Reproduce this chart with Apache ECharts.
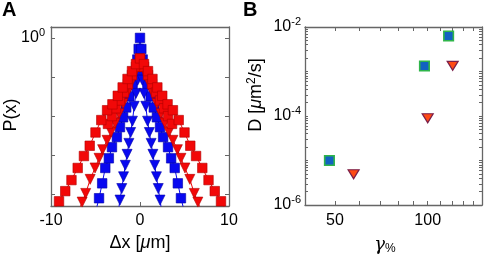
<!DOCTYPE html>
<html>
<head>
<meta charset="utf-8">
<script src="https://cdn.jsdelivr.net/npm/echarts@6/dist/echarts.min.js"></script>
<style>
  html, body { margin: 0; padding: 0; background: #fff; }
  #main { width: 484px; height: 258px; }
</style>
</head>
<body>
<div id="main"></div>
<script>
// panel A: P(dx), four families of curves
const btX = [-2.45, -2.25, -2.05, -1.85, -1.65, -1.45, -1.25, -1.05, -0.85, -0.65, -0.45, -0.25, 0,
  0.25, 0.45, 0.65, 0.85, 1.05, 1.25, 1.45, 1.65, 1.85, 2.05, 2.25, 2.45];
const btP = [3.5e-5, 7.1e-5, 1.4e-4, 2.8e-4, 5.5e-4, 1.05e-3, 2.0e-3, 3.8e-3, 7.4e-3, 1.78e-2, 3.8e-2, 8.3e-2, 0.22,
  8.3e-2, 3.8e-2, 1.78e-2, 7.4e-3, 3.8e-3, 2.0e-3, 1.05e-3, 5.5e-4, 2.8e-4, 1.4e-4, 7.1e-5, 3.5e-5];

const bsX = [-5.0, -4.6, -4.25, -3.9, -3.5, -3.15, -2.6, -2.25, -1.9, -1.55, -1.2, -0.85, -0.55, -0.3, -0.15, 0,
  0.15, 0.3, 0.55, 0.85, 1.2, 1.55, 1.9, 2.25, 2.6, 3.15, 3.5, 3.9, 4.25, 4.6, 5.0];
const bsP = [3.5e-5, 7.9e-5, 1.9e-4, 4.7e-4, 8.3e-4, 1.6e-3, 2.9e-3, 5.2e-3, 9.3e-3, 1.66e-2, 3.2e-2, 6.3e-2, 0.13, 0.28, 0.52, 1.0,
  0.52, 0.28, 0.13, 6.3e-2, 3.2e-2, 1.66e-2, 9.3e-3, 5.2e-3, 2.9e-3, 1.6e-3, 8.3e-4, 4.7e-4, 1.9e-4, 7.9e-5, 3.5e-5];

const rtX = [-7.0, -6.5, -6.1, -5.6, -5.05, -4.6, -4.2, -3.7, -3.25, -2.8, -2.35, -1.9, -1.45, -1.0, -0.55, 0,
  0.55, 1.0, 1.45, 1.9, 2.35, 2.8, 3.25, 3.7, 4.2, 4.6, 5.05, 5.6, 6.1, 6.5, 7.0];
const rtP = [3.2e-5, 6.3e-5, 1.05e-4, 2.4e-4, 4.7e-4, 8.3e-4, 1.38e-3, 2.4e-3, 3.9e-3, 6.6e-3, 1.15e-2, 2.1e-2, 3.8e-2, 7.1e-2, 0.13, 0.26,
  0.13, 7.1e-2, 3.8e-2, 2.1e-2, 1.15e-2, 6.6e-3, 3.9e-3, 2.4e-3, 1.38e-3, 8.3e-4, 4.7e-4, 2.4e-4, 1.05e-4, 6.3e-5, 3.2e-5];

const rs2X = [-3.6, -3.15, -2.7, -2.25, -1.8, -1.35, -0.9, -0.45, 0, 0.45, 0.9, 1.35, 1.8, 2.25, 2.7, 3.15, 3.6];
const rs2P = [6.3e-3, 1.0e-2, 1.58e-2, 2.5e-2, 4.0e-2, 6.6e-2, 0.112, 0.182, 0.28, 0.182, 0.112, 6.6e-2, 4.0e-2, 2.5e-2, 1.58e-2, 1.0e-2, 6.3e-3];

const rsX = [-9.75, -9.1, -8.4, -7.7, -7.0, -6.3, -5.65, -5.0, -4.35, -3.7, -3.1, -2.5, -1.95, -1.4, -0.9, -0.45, 0,
  0.45, 0.9, 1.4, 1.95, 2.5, 3.1, 3.7, 4.35, 5.0, 5.65, 6.3, 7.0, 7.7, 8.4, 9.1, 9.75];
const rsP = [3.5e-5, 6.6e-5, 1.2e-4, 2.3e-4, 4.7e-4, 9.5e-4, 1.74e-3, 3.8e-3, 7.9e-3, 1.41e-2, 2.0e-2, 3.3e-2, 5.4e-2, 8.9e-2, 0.141, 0.214, 0.30,
  0.214, 0.141, 8.9e-2, 5.4e-2, 3.3e-2, 2.0e-2, 1.41e-2, 7.9e-3, 3.8e-3, 1.74e-3, 9.5e-4, 4.7e-4, 2.3e-4, 1.2e-4, 6.6e-5, 3.5e-5];

// panel B: D vs gamma
const sqGamma = [48, 97.6, 116.9];
const sqD = [1.0e-5, 1.33e-3, 6.3e-3];
const triGamma = [57.5, 100, 120.5];
const triD = [4.9e-6, 8.9e-5, 1.34e-3];

// tick values
const aXTicks = [-10, 0, 10];
const aYTicks = [1e-4, 1e-3, 1e-2, 1e-1, 1];
const aYLabels = [1];
const bXTicks = [40, 50, 60, 70, 80, 90, 100, 110, 120, 130, 140, 150];
const bXLabels = [50, 100];
const bYTicks = [];
[1e-6, 1e-5, 1e-4, 1e-3].forEach((d) => {
  [1, 2, 3, 4, 5, 6, 7, 8, 9].forEach((m) => bYTicks.push(m * d));
});
bYTicks.push(1e-2);
const bYLabels = [1e-6, 1e-4, 1e-2];

const FONT = 'Liberation Sans, Arial, sans-serif';
const frame = '#666';

const zip = (xs, ys) => xs.map((x, i) => [x, ys[i]]);

const sup = {
  a: { fontSize: 16, fontFamily: FONT, color: '#000' },
  b: { fontSize: 11, fontFamily: FONT, color: '#000', padding: [0, 0, 10, 0] },
};

function pow10(v) {
  const e = Math.round(Math.log10(v));
  return '{a|10}{b|' + e + '}';
}

function frameAxis(extra) {
  return Object.assign({
    axisLine: { show: true, onZero: false, lineStyle: { color: frame, width: 1.3 } },
    axisTick: { show: true, inside: true, length: 4, lineStyle: { color: frame } },
    axisLabel: { show: false },
    splitLine: { show: false },
  }, extra);
}

function curve(name, xs, ps, color, edge, symbol) {
  return {
    name,
    type: 'line',
    xAxisIndex: 0,
    yAxisIndex: 0,
    data: zip(xs, ps),
    symbol: symbol,
    symbolSize: symbol === 'triangle' ? [10, 10] : 9.5,
    symbolRotate: symbol === 'triangle' ? 180 : 0,
    showSymbol: true,
    clip: true,
    lineStyle: { color: color, width: 1 },
    itemStyle: { color: color, borderColor: edge, borderWidth: 0.6 },
    animation: false,
  };
}

const option = {
  animation: false,
  grid: [
    { left: 51, top: 27, width: 178, height: 179 },
    { left: 305, top: 27, width: 177, height: 178 },
  ],
  xAxis: [
    frameAxis({
      gridIndex: 0, type: 'value', position: 'bottom', min: -10, max: 10, interval: 10,
      axisTick: { show: true, inside: true, length: 4, lineStyle: { color: frame }, customValues: aXTicks },
      axisLabel: {
        show: true, fontSize: 16, fontFamily: FONT, color: '#000', margin: 7,
        formatter: (v) => (v < 0 ? '-' + (-v) : '' + v),
      },
    }),
    frameAxis({ gridIndex: 0, type: 'value', position: 'top', min: -10, max: 10, interval: 10 }),
    frameAxis({
      gridIndex: 1, type: 'log', position: 'bottom', min: 40, max: 150,
      axisTick: { show: true, inside: true, length: 4, lineStyle: { color: frame }, customValues: bXTicks },
      axisLabel: { show: true, fontSize: 16, fontFamily: FONT, color: '#000', margin: 8, customValues: bXLabels },
    }),
    frameAxis({
      gridIndex: 1, type: 'log', position: 'top', min: 40, max: 150,
      axisTick: { show: true, inside: true, length: 4, lineStyle: { color: frame }, customValues: bXTicks },
    }),
  ],
  yAxis: [
    frameAxis({
      gridIndex: 0, type: 'log', position: 'left', min: 5e-5, max: 1.9,
      axisTick: { show: true, inside: true, length: 4, lineStyle: { color: frame }, customValues: aYTicks },
      axisLabel: { show: true, margin: 6, customValues: aYLabels, formatter: pow10, rich: sup },
    }),
    frameAxis({
      gridIndex: 0, type: 'log', position: 'right', min: 5e-5, max: 1.9,
      axisTick: { show: true, inside: true, length: 4, lineStyle: { color: frame }, customValues: aYTicks },
    }),
    frameAxis({
      gridIndex: 1, type: 'log', position: 'left', min: 1e-6, max: 1e-2,
      axisTick: { show: true, inside: true, length: 3, lineStyle: { color: frame }, customValues: bYTicks },
      axisLabel: { show: true, margin: 4, customValues: bYLabels, formatter: pow10, rich: sup },
    }),
    frameAxis({
      gridIndex: 1, type: 'log', position: 'right', min: 1e-6, max: 1e-2,
      axisTick: { show: true, inside: true, length: 3, lineStyle: { color: frame }, customValues: bYTicks },
    }),
  ],
  series: [
    curve('bs', bsX, bsP, '#0808f0', '#0000a8', 'rect'),
    curve('bt', btX, btP, '#0808f0', '#0000a8', 'triangle'),
    curve('rt', rtX, rtP, '#f20808', '#b00000', 'triangle'),
    curve('rs2', rs2X, rs2P, '#f20808', '#b00000', 'rect'),
    curve('rs', rsX, rsP, '#f20808', '#b00000', 'rect'),
    {
      name: 'sq',
      type: 'scatter',
      xAxisIndex: 2,
      yAxisIndex: 2,
      data: zip(sqGamma, sqD),
      symbol: 'rect',
      symbolSize: 9.5,
      itemStyle: { color: '#1262c2', borderColor: '#2fb54a', borderWidth: 1.6, opacity: 1 },
    },
    {
      name: 'tri',
      type: 'scatter',
      xAxisIndex: 2,
      yAxisIndex: 2,
      data: zip(triGamma, triD),
      symbol: 'triangle',
      symbolRotate: 180,
      symbolSize: [11, 9],
      itemStyle: { color: '#ff4a14', borderColor: '#7a1f4a', borderWidth: 1.2, opacity: 1 },
    },
  ],
  graphic: [
    { type: 'text', x: 2, y: 0, style: { text: 'A', font: 'bold 20px ' + FONT, fill: '#000' } },
    { type: 'text', x: 243, y: 0, style: { text: 'B', font: 'bold 20px ' + FONT, fill: '#000' } },
    {
      type: 'text', x: 11, y: 115, rotation: Math.PI / 2,
      style: { text: 'P(x)', font: '18px ' + FONT, fill: '#000', align: 'center', verticalAlign: 'middle' },
    },
    {
      type: 'text', x: 140, y: 243,
      style: {
        text: '{n|Δx [}{i|μ}{n|m]}', align: 'center', verticalAlign: 'middle',
        rich: {
          n: { fontSize: 18, fontFamily: FONT, color: '#000' },
          i: { fontSize: 18, fontFamily: FONT, fontStyle: 'italic', color: '#000' },
        },
      },
    },
    {
      type: 'text', x: 256, y: 95, rotation: Math.PI / 2,
      style: {
        text: '{n|D [}{i|μ}{n|m}{s|2}{n|/s]}', align: 'center', verticalAlign: 'middle',
        rich: {
          n: { fontSize: 18, fontFamily: FONT, color: '#000' },
          i: { fontSize: 18, fontFamily: FONT, fontStyle: 'italic', color: '#000' },
          s: { fontSize: 12, fontFamily: FONT, color: '#000', padding: [0, 0, 9, 0] },
        },
      },
    },
    {
      type: 'text', x: 385, y: 245,
      style: {
        text: '{g|γ}{p|%}', align: 'center', verticalAlign: 'middle',
        rich: {
          g: { fontSize: 18, fontFamily: 'DejaVu Serif', fontStyle: 'italic', color: '#000' },
          p: { fontSize: 12, fontFamily: FONT, color: '#000', padding: [8, 0, 0, 0] },
        },
      },
    },
  ],
};

const myechart = echarts.init(document.getElementById('main'));
myechart.setOption(option);
</script>
</body>
</html>
